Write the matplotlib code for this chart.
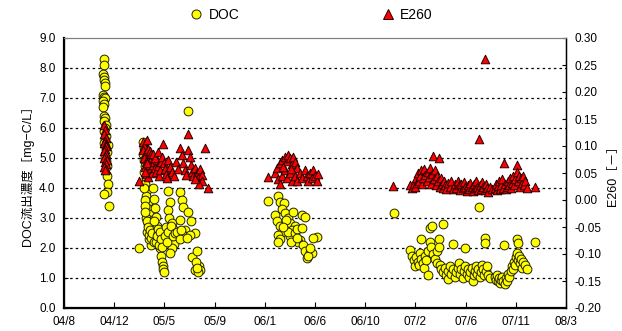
import numpy as np
import matplotlib.pyplot as plt
from matplotlib.lines import Line2D

# x = days from the first tick, ticks every 130 days
tick_labels = ['04/8', '04/12', '05/5', '05/9', '06/1', '06/6',
               '06/10', '07/2', '07/6', '07/11', '08/3']

# DOC [mg-C/L]  (day, value)
doc_g1 = np.array([
    (104, 8.3), (104, 8.1), (101, 7.8), (104, 7.7), (104, 7.6), (106, 7.5), (106, 7.4),
    (101, 7.1), (104, 7.05), (106, 7.0), (101, 6.9), (104, 6.8), (101, 6.7), (104, 6.4),
    (106, 6.35), (104, 6.25), (109, 6.1), (106, 6.0), (104, 5.9), (109, 5.75), (106, 5.6),
    (104, 5.5), (114, 5.45), (109, 5.3), (111, 5.2), (106, 5.05), (109, 4.9), (111, 4.75),
    (111, 4.4), (114, 4.13), (111, 3.87), (104, 3.8), (117, 3.4)])

doc_g2 = np.array([
    (205, 5.55), (207, 5.35), (205, 5.15), (207, 4.95), (210, 4.75), (207, 4.55), (212, 4.35),
    (210, 4.15), (215, 3.95), (212, 3.75), (218, 3.55), (215, 3.35), (220, 3.15), (223, 2.95),
    (218, 2.8), (225, 2.65), (223, 2.45), (228, 2.25), (225, 2.1), (210, 3.6), (213, 3.0),
    (216, 2.55), (220, 2.3), (208, 4.0), (209, 3.4), (211, 3.2), (214, 2.9), (217, 2.7),
    (219, 2.45), (222, 2.6), (226, 2.35), (229, 2.5), (232, 2.2),
    (231, 4.0), (233, 3.65), (236, 3.35), (238, 3.05), (241, 2.75), (243, 2.5), (246, 2.3),
    (249, 2.0), (251, 1.75), (254, 1.55), (256, 1.4), (256, 1.3), (259, 1.2), (238, 2.2),
    (243, 2.65), (246, 2.1), (234, 2.9), (240, 2.4), (248, 2.55), (252, 2.3), (255, 2.05),
    (269, 3.9), (275, 3.55), (269, 3.27), (272, 3.0), (280, 2.85), (285, 2.6), (280, 2.5),
    (275, 2.35), (290, 2.3), (285, 2.15), (280, 2.0), (275, 1.85), (262, 2.4), (264, 2.7),
    (267, 2.2), (270, 2.55), (277, 2.75), (283, 2.4), (288, 2.5), (293, 2.55),
    (300, 3.87), (306, 3.6), (308, 3.37), (300, 2.95), (313, 2.6), (308, 2.45), (300, 2.3),
    (321, 3.2), (329, 2.9), (339, 2.5), (326, 2.45), (303, 2.6), (318, 2.35),
    (332, 1.7), (344, 1.9), (350, 1.4), (339, 1.27), (352, 1.27), (347, 1.2), (341, 1.55),
    (344, 1.35),
    (321, 6.57), (194, 2.0)])

doc_g3 = np.array([
    (528, 3.57), (554, 3.73), (559, 3.55), (547, 3.1), (552, 2.9), (570, 3.5), (565, 3.3),
    (572, 3.17), (580, 3.0), (559, 2.75), (565, 2.55), (554, 2.45), (559, 2.3), (554, 2.2),
    (585, 2.85), (593, 3.2), (598, 2.75), (591, 2.6), (585, 2.4), (580, 2.55), (598, 2.5),
    (603, 2.65), (616, 3.1), (624, 3.03), (616, 2.67), (611, 2.27), (606, 2.2), (619, 2.1),
    (624, 1.9), (629, 1.67), (637, 1.87), (642, 1.83), (632, 1.75), (637, 2.0), (655, 2.37),
    (645, 2.33), (575, 2.95), (567, 2.7), (588, 2.2), (603, 2.35)])

doc_g4 = np.array([
    (855, 3.17),
    (896, 1.93), (901, 1.75), (906, 1.6), (909, 1.4), (912, 1.7), (917, 1.55), (920, 1.45),
    (922, 1.85), (925, 2.3), (925, 1.65), (930, 1.5), (933, 1.35), (935, 1.75), (938, 1.6),
    (943, 1.1), (943, 1.9), (948, 2.67), (953, 2.72), (948, 2.2), (951, 2.05), (956, 1.8),
    (961, 1.65), (966, 1.5), (966, 1.9), (971, 2.3), (971, 2.05), (974, 1.45), (976, 1.3),
    (982, 2.8), (982, 1.2), (987, 1.35), (990, 1.1), (995, 0.97), (995, 1.25), (1000, 1.4),
    (1003, 1.15), (1008, 2.13), (1008, 1.3), (1013, 1.05), (1016, 1.2), (1020, 1.35),
    (1023, 1.5), (1026, 1.15), (1029, 1.3), (1033, 1.0), (1036, 1.25), (1039, 2.0),
    (1039, 1.4), (1044, 1.15), (1046, 1.3), (1049, 1.05), (1052, 1.2), (1057, 1.35),
    (1059, 0.9), (1062, 1.1), (1064, 1.25), (1067, 1.4), (1070, 1.15), (1072, 1.3),
    (1075, 3.37), (1077, 1.05), (1080, 1.2), (1083, 1.45), (1085, 1.3), (1088, 1.1),
    (1090, 2.33), (1090, 2.17), (1093, 1.25), (1096, 1.4), (1098, 1.1), (1103, 1.0),
    (1116, 1.05), (1119, 0.95), (1121, 1.1), (1124, 0.9), (1126, 1.0), (1129, 0.85),
    (1131, 0.95), (1134, 1.05), (1137, 0.9), (1140, 2.1), (1142, 0.8), (1145, 1.0),
    (1147, 0.9), (1150, 1.15), (1152, 1.05),
    (1157, 1.25), (1160, 1.4), (1163, 1.3), (1165, 1.55), (1168, 1.45), (1170, 1.7),
    (1173, 1.85), (1173, 2.3), (1176, 2.17), (1176, 1.6), (1178, 1.75), (1181, 1.5),
    (1184, 1.65), (1186, 1.35), (1189, 1.55), (1194, 1.45), (1198, 1.3), (1220, 2.2)])

# E260 [-]  (day, value)
e260_g1 = np.array([
    (104, 0.139), (106, 0.13), (104, 0.122), (109, 0.115), (106, 0.11), (104, 0.105),
    (109, 0.103), (109, 0.10), (106, 0.095), (104, 0.09), (109, 0.086), (106, 0.082),
    (104, 0.078), (111, 0.074), (106, 0.07), (109, 0.066), (104, 0.062), (109, 0.058),
    (106, 0.055)])

e260_g2 = np.array([
    (194, 0.035),
    (205, 0.108), (207, 0.10), (205, 0.092), (210, 0.085), (207, 0.078), (212, 0.07),
    (210, 0.062), (215, 0.055), (212, 0.048), (218, 0.042),
    (215, 0.112), (218, 0.095), (220, 0.082), (223, 0.072), (225, 0.06), (228, 0.05),
    (220, 0.065), (223, 0.09), (209, 0.052), (216, 0.068), (226, 0.085), (230, 0.065),
    (231, 0.085), (233, 0.07), (236, 0.06), (238, 0.052), (241, 0.075), (243, 0.063),
    (246, 0.045), (249, 0.055), (235, 0.078), (244, 0.088), (251, 0.07),
    (256, 0.103), (254, 0.08), (259, 0.068), (262, 0.058), (264, 0.048), (267, 0.04),
    (269, 0.075), (275, 0.062), (280, 0.052), (285, 0.045), (290, 0.07), (295, 0.058),
    (300, 0.096), (306, 0.083), (308, 0.068), (313, 0.055), (316, 0.047),
    (321, 0.122), (321, 0.093), (326, 0.079), (329, 0.065), (332, 0.052), (334, 0.045),
    (339, 0.06), (344, 0.05), (347, 0.04), (352, 0.058), (357, 0.047),
    (365, 0.096), (373, 0.022), (357, 0.035), (350, 0.03), (339, 0.038)])

e260_g3 = np.array([
    (528, 0.043), (547, 0.05), (552, 0.06), (559, 0.068), (565, 0.075), (572, 0.08),
    (578, 0.072), (580, 0.083), (585, 0.077), (591, 0.066), (593, 0.08), (598, 0.07),
    (603, 0.06), (554, 0.038), (559, 0.03), (565, 0.045), (572, 0.055), (578, 0.04),
    (585, 0.05), (591, 0.035), (598, 0.045), (603, 0.035), (611, 0.05), (616, 0.04),
    (624, 0.055), (629, 0.045), (632, 0.035), (637, 0.05), (642, 0.04), (645, 0.055),
    (650, 0.045), (655, 0.035), (658, 0.048), (567, 0.062), (588, 0.058)])

e260_g4 = np.array([
    (853, 0.026),
    (896, 0.028), (901, 0.022), (906, 0.03), (909, 0.025), (912, 0.04), (914, 0.032),
    (917, 0.05), (920, 0.036), (922, 0.045), (925, 0.055), (928, 0.03), (930, 0.04),
    (933, 0.058), (935, 0.047), (940, 0.035), (943, 0.052), (946, 0.042), (948, 0.06),
    (951, 0.03), (953, 0.048), (956, 0.081), (958, 0.038), (961, 0.055), (964, 0.028),
    (966, 0.045), (969, 0.035), (971, 0.078), (974, 0.025), (976, 0.04), (979, 0.03),
    (982, 0.022), (985, 0.035), (987, 0.028), (990, 0.02), (995, 0.032), (1000, 0.025),
    (1003, 0.035), (1008, 0.02), (1013, 0.03), (1016, 0.022), (1020, 0.035), (1023, 0.027),
    (1026, 0.018), (1029, 0.03), (1033, 0.022), (1036, 0.033), (1039, 0.025), (1044, 0.017),
    (1046, 0.028), (1049, 0.02), (1052, 0.032), (1057, 0.024), (1059, 0.016), (1062, 0.03),
    (1064, 0.022), (1067, 0.035), (1070, 0.025), (1072, 0.018), (1075, 0.113), (1077, 0.028),
    (1080, 0.02), (1083, 0.033), (1085, 0.024), (1091, 0.261), (1090, 0.018), (1093, 0.03),
    (1096, 0.022), (1098, 0.015), (1103, 0.025), (1108, 0.02),
    (1116, 0.022), (1119, 0.03), (1121, 0.018), (1124, 0.026), (1126, 0.035), (1129, 0.02),
    (1131, 0.028), (1134, 0.038), (1137, 0.022), (1140, 0.069), (1142, 0.03), (1145, 0.02),
    (1147, 0.025), (1150, 0.035), (1152, 0.028), (1155, 0.04), (1157, 0.022), (1160, 0.032),
    (1163, 0.045), (1165, 0.028), (1168, 0.038), (1173, 0.065), (1173, 0.052), (1176, 0.035),
    (1178, 0.045), (1181, 0.025), (1184, 0.04), (1186, 0.032), (1189, 0.044), (1191, 0.028),
    (1194, 0.036), (1198, 0.022), (1220, 0.024)])

doc = np.vstack([doc_g1, doc_g2, doc_g3, doc_g4])
e260 = np.vstack([e260_g1, e260_g2, e260_g3, e260_g4])

fonts = ['Liberation Sans', 'Noto Sans CJK JP', 'DejaVu Sans']
plt.rcParams['font.family'] = fonts
plt.rcParams['font.size'] = 8.5

fig = plt.figure(figsize=(6.22, 3.31), dpi=100)
ax = fig.add_axes([64/622, 1-308/331, (566-64)/622, (308-38)/331])
ax2 = ax.twinx()

ax.scatter(doc[:, 0], doc[:, 1], s=40, marker='o', facecolor='#ffff00',
           edgecolor='#222200', linewidth=0.7, zorder=3)
ax2.scatter(e260[:, 0], e260[:, 1], s=38, marker='^', facecolor='#ff0000',
            edgecolor='#220000', linewidth=0.7, zorder=3)

ax.set_xlim(0, 1300)
ax.set_xticks(np.arange(0, 1301, 130))
ax.set_xticklabels(tick_labels)
left_ticks = np.round(np.arange(0, 9.01, 1.0), 2)
right_ticks = np.round(np.arange(-0.2, 0.301, 0.05), 2) + 0.0
ax.set_ylim(0, 9)
ax.set_yticks(left_ticks)
ax.set_yticklabels([f'{v:.1f}' for v in left_ticks])
ax2.set_ylim(-0.2, 0.3)
ax2.set_yticks(right_ticks)
ax2.set_yticklabels([f'{abs(v):.2f}' if abs(v) < 1e-9 else f'{v:.2f}' for v in right_ticks])

for y in range(1, 9):
    ax.axhline(y, color='black', lw=0.9, ls=(0, (2, 2.5)), zorder=1)

for sp in ['left', 'bottom']:
    ax.spines[sp].set_linewidth(1.6)
ax.spines['top'].set_color('#808080')
ax2.spines['top'].set_color('#808080')
ax2.spines['right'].set_linewidth(1.0)
ax.tick_params(axis='x', direction='in', length=4, pad=6)
ax.tick_params(axis='y', direction='in', length=3, pad=6)
ax2.tick_params(axis='y', direction='in', length=3, pad=6)

ax.set_ylabel('DOC流出濃度［mg−C/L］', fontsize=9, labelpad=4)
ax2.set_ylabel('E260［－］', fontsize=9, labelpad=4)

handles = [
    Line2D([], [], ls='none', marker='o', ms=6.5, mfc='#ffff00', mec='#222200', mew=0.7),
    Line2D([], [], ls='none', marker='^', ms=6.5, mfc='#ff0000', mec='#220000', mew=0.7)]
fig.legend(handles, ['DOC', 'E260'], loc='center', bbox_to_anchor=(0.50, 0.955),
           ncol=2, frameon=False, fontsize=10, handlelength=1.0, handletextpad=0.4,
           columnspacing=10.2)

fig.savefig('out.png', dpi=100)
